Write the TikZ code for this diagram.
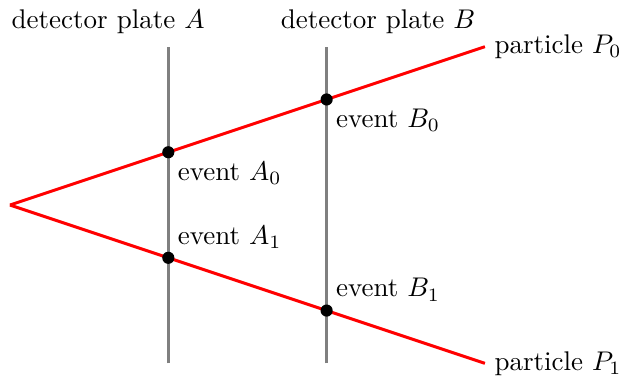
\documentclass[tikz,border=0pt]{standalone}
\usetikzlibrary{positioning}

\begin{document}
\begin{tikzpicture}[x=2.06cm, y=2.06cm,
  plate/.style={draw=gray, line width=1.1pt},
  track/.style={draw=red, line width=1.1pt},
  event/.style={circle, fill=black, inner sep=0pt, minimum size=4.5pt}]

\useasboundingbox (-0.063,-1.080) rectangle (3.935,1.295);

\coordinate (O) at (0,0);
\coordinate (Atop) at (1,1);
\coordinate (Abot) at (1,-1);
\coordinate (Btop) at (2,1);
\coordinate (Bbot) at (2,-1);

\node[anchor=base] (plateA) at (0.62,1.118) {detector plate $A$};
\node[anchor=base] (plateB) at (2.325,1.118) {detector plate $B$};
\node[right] (P0) at (3,1) {particle $P_0$};
\node[right] (P1) at (3,-1) {particle $P_1$};

\draw[plate] (Abot) -- (Atop);
\draw[plate] (Bbot) -- (Btop);
\draw[track] (O) -- (P0.west);
\draw[track] (O) -- (P1.west);

\node[event] (A0) at (1,1/3) {};
\node[event] (B0) at (2,2/3) {};
\node[event] (A1) at (1,-1/3) {};
\node[event] (B1) at (2,-2/3) {};

\node[below right] (eA0) at (A0.center) {event $A_0$};
\node[below right] (eB0) at (B0.center) {event $B_0$};
\node[above right] (eA1) at (A1.center) {event $A_1$};
\node[above right] (eB1) at (B1.center) {event $B_1$};
\end{tikzpicture}
\end{document}
